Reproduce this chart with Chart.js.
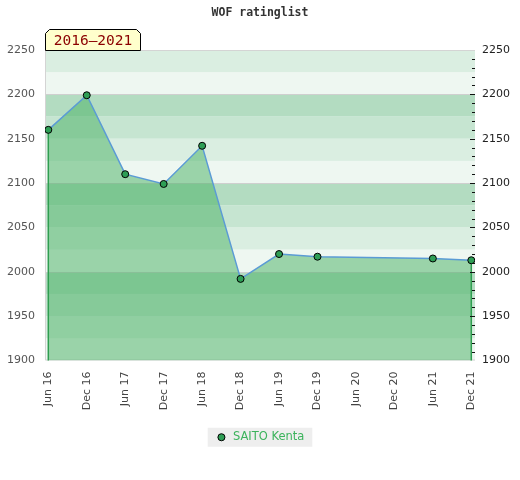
<!DOCTYPE html>
<html>
<head>
<meta charset="utf-8">
<title>WOF ratinglist</title>
<script src="https://cdn.jsdelivr.net/npm/chart.js@4.4.1/dist/chart.umd.min.js"></script>
<style>
  html, body { margin: 0; padding: 0; background: #fff; }
  #wrap { width: 520px; height: 480px; position: relative; }
</style>
</head>
<body>
<div id="wrap"><canvas id="ratingChart"></canvas></div>
<script>
// x axis tick labels (half-year steps)
const tickLabels = ["Jun 16", "Dec 16", "Jun 17", "Dec 17", "Jun 18", "Dec 18",
  "Jun 19", "Dec 19", "Jun 20", "Dec 20", "Jun 21", "Dec 21"];

// rating lists where the player appears
const ratingPeriods = ["Jun 16", "Dec 16", "Jun 17", "Dec 17", "Jun 18", "Dec 18",
  "Jun 19", "Dec 19", "Jun 21", "Dec 21"];
const ratings = [2160, 2199, 2110, 2099, 2142, 1992, 2020, 2017, 2015, 2013];

const playerName = "SAITO Kenta";
const periodLabel = "2016\u20132021";

const yMin = 1900;
const yMax = 2250;
const yStep = 50;

const points = ratingPeriods.map((p, i) => ({ x: tickLabels.indexOf(p), y: ratings[i] }));

// striped background, 25 point bands, repeating every 100
const bandColors = ["#eef7f1", "#daeee1", "#c6e5d1", "#b3dcc1"];

const backdrop = {
  id: "backdrop",
  beforeDraw(chart) {
    const { ctx, chartArea: a, scales } = chart;
    const y = scales.y;
    ctx.save();
    for (let v = yMin; v < yMax; v += 25) {
      const top = y.getPixelForValue(v + 25);
      const bot = y.getPixelForValue(v);
      ctx.fillStyle = bandColors[((v % 100) / 25) % 4];
      ctx.fillRect(a.left, top, a.right - a.left, bot - top);
    }
    ctx.strokeStyle = "#cfcfcf";
    ctx.lineWidth = 1;
    for (let v = 2000; v < yMax; v += 100) {
      const py = Math.round(y.getPixelForValue(v)) + 0.5;
      ctx.beginPath();
      ctx.moveTo(a.left, py);
      ctx.lineTo(a.right, py);
      ctx.stroke();
    }
    // frame: top, left, bottom
    ctx.strokeStyle = "#d4d4d4";
    ctx.beginPath();
    ctx.moveTo(a.right, a.top + 0.5);
    ctx.lineTo(a.left + 0.5, a.top + 0.5);
    ctx.lineTo(a.left + 0.5, a.bottom - 0.5);
    ctx.lineTo(a.right, a.bottom - 0.5);
    ctx.stroke();

    // legend background
    const hb = chart.legend && chart.legend.legendHitBoxes && chart.legend.legendHitBoxes[0];
    if (hb) {
      ctx.fillStyle = "#eeeeee";
      const cy = hb.top + hb.height / 2;
      ctx.fillRect(hb.left - 8, cy - 9.5, hb.width + 16, 19);
    }
    ctx.restore();
  },
  beforeDatasetDraw(chart) {
    // vertical edges of the filled area
    const { ctx, chartArea: a } = chart;
    const meta = chart.getDatasetMeta(0);
    const first = meta.data[0];
    const last = meta.data[meta.data.length - 1];
    ctx.save();
    ctx.strokeStyle = "#2f9e50";
    ctx.lineWidth = 1.5;
    [first, last].forEach((pt) => {
      ctx.beginPath();
      ctx.moveTo(pt.x, pt.y);
      ctx.lineTo(pt.x, a.bottom);
      ctx.stroke();
    });
    ctx.restore();
  },
  afterDraw(chart) {
    const { ctx, chartArea: a, scales } = chart;
    const y = scales.y;
    ctx.save();
    // small ticks on the right edge
    ctx.strokeStyle = "#111";
    ctx.lineWidth = 1;
    for (let v = yMin + 10; v < yMax; v += 10) {
      const py = Math.round(y.getPixelForValue(v)) + 0.5;
      const len = v % 50 === 0 ? 5 : 3;
      ctx.beginPath();
      ctx.moveTo(a.right - len, py);
      ctx.lineTo(a.right, py);
      ctx.stroke();
    }
    // period tag
    const l = a.left + 0.5, r = 140.5, t = 29.5, b = a.top + 0.5, c = 4;
    ctx.beginPath();
    ctx.moveTo(l, b);
    ctx.lineTo(l, t + c);
    ctx.lineTo(l + c, t);
    ctx.lineTo(r - c, t);
    ctx.lineTo(r, t + c);
    ctx.lineTo(r, b);
    ctx.closePath();
    ctx.fillStyle = "#ffffcc";
    ctx.fill();
    ctx.strokeStyle = "#000";
    ctx.stroke();
    ctx.fillStyle = "#8b0000";
    ctx.font = "14.5px 'DejaVu Sans Mono', monospace";
    ctx.textAlign = "center";
    ctx.textBaseline = "middle";
    ctx.fillText(periodLabel, (l + r) / 2, 41);
    ctx.restore();
  },
};

const axisFont = { family: "'DejaVu Sans', sans-serif", size: 11 };

new Chart(document.getElementById("ratingChart"), {
  type: "line",
  data: {
    datasets: [
      {
        label: playerName,
        data: points,
        borderColor: "#5b9bd5",
        borderWidth: 1.5,
        backgroundColor: "rgba(70,175,97,0.5)",
        fill: "start",
        tension: 0,
        pointRadius: 3.5,
        pointBackgroundColor: "#2e9e55",
        pointBorderColor: "#000",
        pointBorderWidth: 1,
      },
    ],
  },
  options: {
    responsive: true,
    maintainAspectRatio: false,
    animation: false,
    layout: { padding: { left: 0, right: 0, top: 0, bottom: 27 } },
    plugins: {
      title: {
        display: true,
        text: "WOF ratinglist",
        color: "#333",
        font: { family: "'DejaVu Sans Mono', monospace", size: 11.5, weight: "bold" },
        padding: { top: 6, bottom: 30.2 },
      },
      legend: {
        position: "bottom",
        labels: {
          usePointStyle: true,
          pointStyle: "circle",
          boxHeight: 5,
          padding: 11,
          color: "#3cb35c",
          font: { family: "'DejaVu Sans', sans-serif", size: 11.5 },
        },
      },
      tooltip: { enabled: false },
    },
    scales: {
      x: {
        type: "linear",
        min: -0.086,
        max: 11.096,
        afterBuildTicks: (scale) => {
          scale.ticks = tickLabels.map((_, i) => ({ value: i }));
        },
        afterFit: (scale) => { scale.height = 60; },
        grid: { display: false, drawTicks: false },
        border: { display: false },
        ticks: {
          autoSkip: false,
          maxRotation: 90,
          minRotation: 90,
          padding: 11,
          color: "#444",
          font: axisFont,
          callback: (v) => tickLabels[v],
        },
      },
      y: {
        position: "left",
        min: yMin,
        max: yMax,
        afterFit: (scale) => { scale.width = 45; },
        grid: { display: false, drawTicks: false },
        border: { display: false },
        ticks: { stepSize: yStep, padding: 10, color: "#555", font: axisFont, callback: (v) => String(v) },
      },
      y2: {
        position: "right",
        min: yMin,
        max: yMax,
        afterFit: (scale) => { scale.width = 45; },
        grid: { display: false, drawTicks: false },
        border: { display: false },
        ticks: { stepSize: yStep, padding: 7, color: "#222", font: axisFont, callback: (v) => String(v) },
      },
    },
  },
  plugins: [backdrop],
});
</script>
</body>
</html>
